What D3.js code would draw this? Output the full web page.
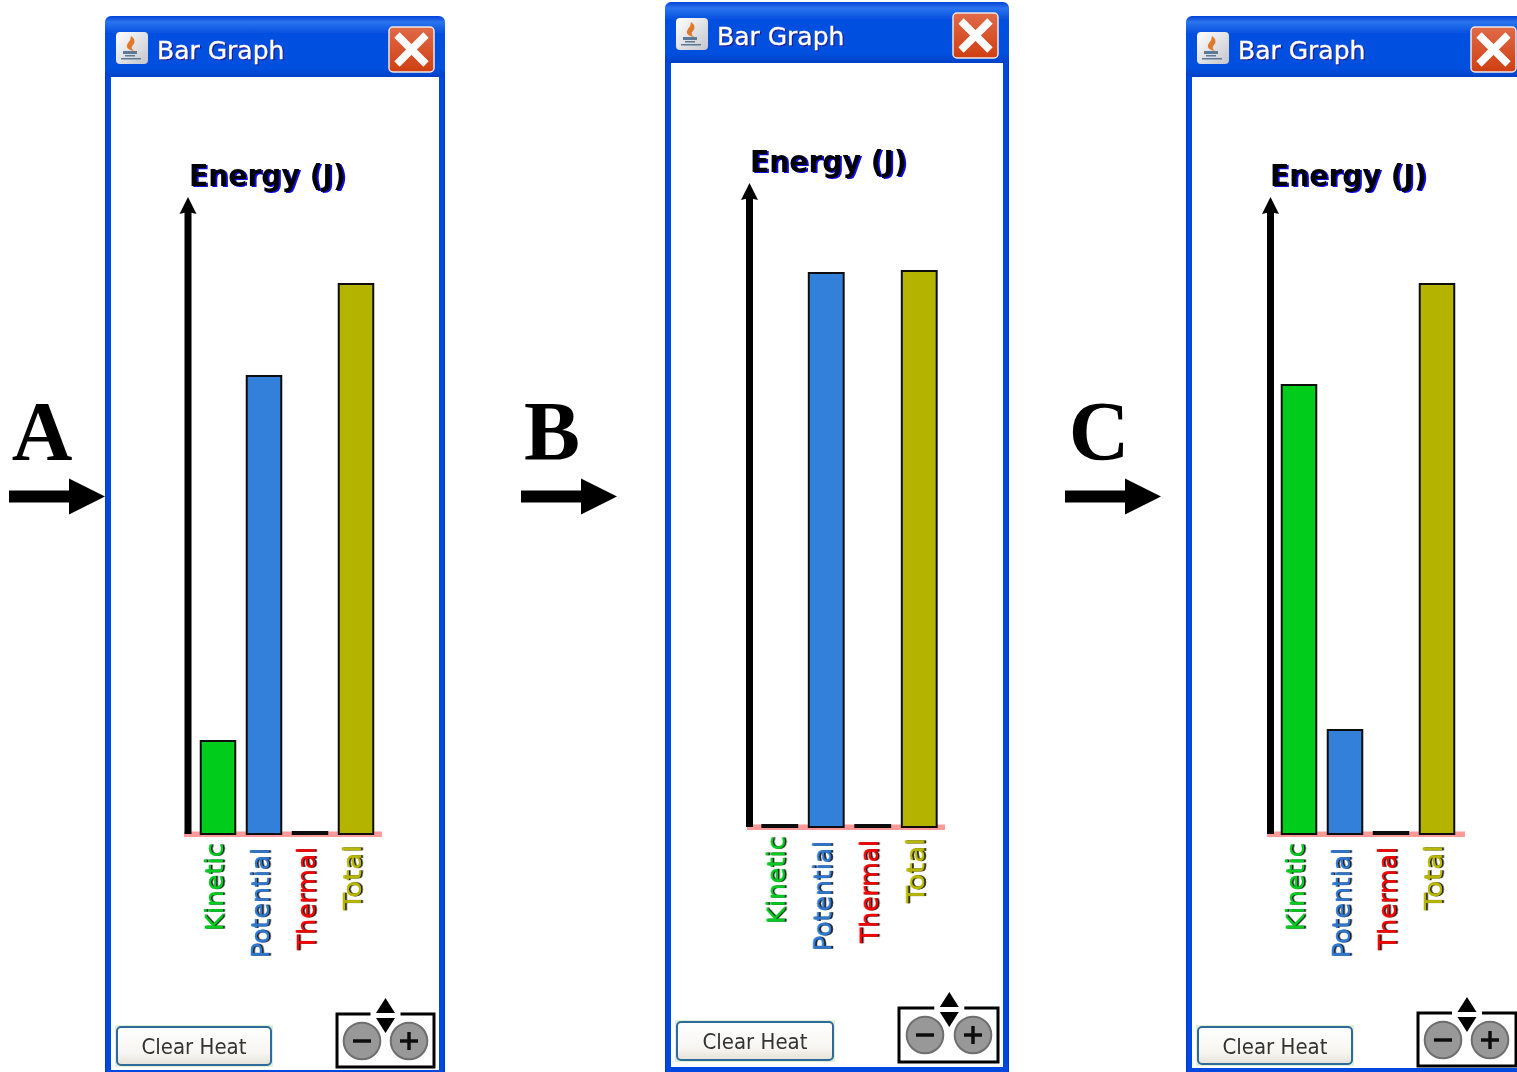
<!DOCTYPE html>
<html><head><meta charset="utf-8">
<style>html,body{margin:0;padding:0;background:#fff;overflow:hidden}svg{display:block}</style>
<script src="https://cdnjs.cloudflare.com/ajax/libs/d3/7.8.5/d3.min.js"></script>
</head><body><svg id="c" width="1517" height="1072"></svg>
<script>
const categories = ["Kinetic","Potential","Thermal","Total"];
const barColors = ["#00cc1a","#3380d9","#ff0000","#b3b300"];
const labelColors = ["#00cc20","#2f78d0","#ff0000","#b8b800"];
const kineticValues = [93, 458, 2, 550];
const potentialValues = [2, 554, 2, 556];
const thermalValues = [449, 104, 2, 550];
const windowTitle = "Bar Graph";
const axisTitle = "Energy (J)";
const buttonLabel = "Clear Heat";

const panels = [
 {name:"A",x:105,y:16,w:340,whiteEnd:1070,vals:kineticValues,axisX:188,titleX:189,baseX:184,base:834,bandL:195,bandW:184,letterX:42,arrowX:9,closeX:389,
  btn:[117,1027,154,38],zoom:{l:337,r:434,t:1014,b:1067,c1:362,c2:409,cy:1041,tri:385.5}},
 {name:"B",x:665,y:2,w:344,whiteEnd:1067,vals:potentialValues,axisX:749.5,titleX:750,baseX:747,base:827,bandL:756.5,bandW:186,letterX:552,arrowX:521,closeX:953,
  btn:[677,1022,156,38],zoom:{l:899,r:998,t:1008,b:1062,c1:925,c2:973,cy:1035,tri:949.3}},
 {name:"C",x:1186,y:16,w:344,whiteEnd:1068,vals:thermalValues,axisX:1270.5,titleX:1270,baseX:1267,base:834,bandL:1276,bandW:184,letterX:1099,arrowX:1065,closeX:1471,
  btn:[1198,1027,154,37],zoom:{l:1418,r:1516,t:1013,b:1066,c1:1443,c2:1490,cy:1040,tri:1467}}
];
const labelTopOffset = [9,14,13,11];
const labelLength = [88,110,103,65];

const svg = d3.select("#c");
const defs = svg.append("defs");
defs.append("filter").attr("id","soft").attr("x","-10%").attr("y","-10%").attr("width","120%").attr("height","120%")
  .append("feGaussianBlur").attr("stdDeviation",0.5);
const tg = defs.append("linearGradient").attr("id","title").attr("x1",0).attr("x2",0).attr("y1",0).attr("y2",1);
[[0,"#0344d8"],[0.1,"#2a74ee"],[0.28,"#0650e0"],[0.85,"#0450de"],[1,"#0340c8"]].forEach(s=>tg.append("stop").attr("offset",s[0]).attr("stop-color",s[1]));
const xg = defs.append("linearGradient").attr("id","close").attr("x1",0).attr("x2",0).attr("y1",0).attr("y2",1);
[[0,"#e06a48"],[1,"#cf3f12"]].forEach(s=>xg.append("stop").attr("offset",s[0]).attr("stop-color",s[1]));
const bg = defs.append("linearGradient").attr("id","btn").attr("x1",0).attr("x2",0).attr("y1",0).attr("y2",1);
[[0,"#ffffff"],[0.7,"#f6f5f0"],[1,"#e4e2d8"]].forEach(s=>bg.append("stop").attr("offset",s[0]).attr("stop-color",s[1]));
const ig = defs.append("linearGradient").attr("id","icon").attr("x1",0).attr("x2",1).attr("y1",0).attr("y2",1);
[[0,"#ffffff"],[1,"#c4c6cc"]].forEach(s=>ig.append("stop").attr("offset",s[0]).attr("stop-color",s[1]));
const sg = defs.append("linearGradient").attr("id","side").attr("x1",0).attr("x2",1).attr("y1",0).attr("y2",0);
[[0,"#0030c0"],[0.25,"#0446dc"],[1,"#0a50e6"]].forEach(s=>sg.append("stop").attr("offset",s[0]).attr("stop-color",s[1]));

const yScale = d3.scaleLinear().domain([0,640]).range([0,-640]);

panels.forEach(p=>{
  const g = svg.append("g");
  const fr = g.append("g").attr("filter","url(#soft)");
  // window frame
  fr.append("rect").attr("x",p.x).attr("y",p.y+6).attr("width",p.w).attr("height",1080-p.y).attr("fill","#0338c8");
  fr.append("rect").attr("x",p.x+1).attr("y",p.y+6).attr("width",p.w-2).attr("height",1080-p.y).attr("fill","#0448e0");
  fr.append("rect").attr("x",p.x).attr("y",p.y).attr("width",p.w).attr("height",61).attr("rx",6).attr("fill","url(#title)");
  fr.append("rect").attr("x",p.x+6).attr("y",p.y+61).attr("width",p.w-12).attr("height",p.whiteEnd-p.y-61).attr("fill","#fff");
  // java icon
  const ix=p.x+11, iy=p.y+16;
  fr.append("rect").attr("x",ix).attr("y",iy).attr("width",32).attr("height",32).attr("rx",4).attr("fill","url(#icon)");
  fr.append("path").attr("d",`M${ix+15} ${iy+4}q6 4 2 9q-3 3 1 6q-10 -2 -6 -8q3 -3 3 -7z`).attr("fill","#e07a2a");
  fr.append("path").attr("d",`M${ix+7} ${iy+19}h14v3h-14zM${ix+9} ${iy+23}h10v1.5h-10zM${ix+5} ${iy+26}h20v1.5h-20z`).attr("fill","#5c7a98");
  // window title
  const tx = p.x+52;
  const tt = (dx,dy,c)=>g.append("text").attr("x",tx+dx).attr("y",p.y+43+dy).text(windowTitle).attr("font-family","DejaVu Sans").attr("font-size",25).attr("fill",c).attr("stroke",c).attr("stroke-width",0.35).attr("filter","url(#soft)");
  tt(1.2,1.2,"#2a1a80"); tt(0,0,"#fff");
  // close button
  const cx = p.closeX, cy=p.y+11;
  fr.append("rect").attr("x",cx).attr("y",cy).attr("width",45).attr("height",45).attr("rx",4).attr("fill","url(#close)").attr("stroke","#f0e8e4").attr("stroke-width",1.5);
  fr.append("path").attr("d",`M${cx+8} ${cy+8}L${cx+37} ${cy+37}M${cx+37} ${cy+8}L${cx+8} ${cy+37}`).attr("stroke","#fff").attr("stroke-width",7.5);
  // axis title
  const aTy = p.y+169.5;
  const at = (dx,dy,c)=>g.append("text").attr("transform",`translate(${p.titleX+dx},${aTy+dy}) scale(1,1.08)`).text(axisTitle).attr("font-family","DejaVu Sans").attr("font-weight","bold").attr("font-size",28.2).attr("fill",c).attr("filter","url(#soft)");
  at(1.8,1.2,"#0808f0"); at(0,0,"#000");

  // chart
  const x = d3.scaleBand().domain(categories).range([p.bandL,p.bandL+p.bandW]).paddingInner(0.25).paddingOuter(0.125);
  const plot = g.append("g").attr("transform",`translate(0,${p.base})`).attr("filter","url(#soft)");
  plot.append("rect").attr("x",p.baseX).attr("y",-2.5).attr("width",198).attr("height",5.5).attr("fill","#ff9a9a");
  const axisTop = p.y+181-p.base;
  plot.append("rect").attr("x",p.axisX-3.5).attr("y",axisTop+14).attr("width",7).attr("height",-axisTop-14).attr("fill","#000");
  plot.append("path").attr("d",`M${p.axisX} ${axisTop}l8.5 17l-8.5 -2l-8.5 2z`).attr("fill","#000");
  plot.selectAll("rect.bar").data(p.vals).join("rect").attr("class","bar")
    .attr("x",(d,i)=>x(categories[i])).attr("width",x.bandwidth())
    .attr("y",d=>yScale(d)).attr("height",d=>-yScale(d)).attr("fill",(d,i)=>barColors[i])
    .attr("stroke","#111").attr("stroke-width",2);
  // category labels with dark offset shadow
  categories.forEach((c,i)=>{
    const lx = x(c)+x.bandwidth()/2+5, ly = p.base+labelTopOffset[i];
    const lab = (dx,col)=>g.append("text").attr("transform",`translate(${lx+dx},${ly}) rotate(-90)`).attr("text-anchor","end")
      .attr("textLength",labelLength[i]).attr("lengthAdjust","spacingAndGlyphs")
      .text(c).attr("font-family","DejaVu Sans").attr("font-size",25).attr("fill",col).attr("stroke",col).attr("stroke-width",0.3).attr("filter","url(#soft)");
    lab(1.6,"#111"); lab(0,labelColors[i]);
  });
  // clear heat button
  const [bx,by,bw,bh] = p.btn;
  fr.append("rect").attr("x",bx-2).attr("y",by-2).attr("width",bw+4).attr("height",bh+4).attr("fill","#dff0d8");
  fr.append("rect").attr("x",bx).attr("y",by).attr("width",bw).attr("height",bh).attr("rx",4).attr("fill","url(#btn)").attr("stroke","#2f6a9a").attr("stroke-width",2);
  g.append("text").attr("x",bx+bw/2).attr("y",by+27).attr("text-anchor","middle").attr("textLength",105).attr("lengthAdjust","spacingAndGlyphs")
    .text(buttonLabel).attr("font-family","DejaVu Sans").attr("font-size",22).attr("fill","#333").attr("filter","url(#soft)");
  // zoom control
  const z = p.zoom;
  fr.append("path").attr("d",`M${z.tri-15} ${z.t}H${z.l}V${z.b}H${z.r}V${z.t}H${z.tri+15}`).attr("fill","none").attr("stroke","#000").attr("stroke-width",3);
  [[z.c1,"-"],[z.c2,"+"]].forEach(b=>{
    fr.append("circle").attr("cx",b[0]).attr("cy",z.cy).attr("r",18.3).attr("fill","#989898").attr("stroke","#6e6e6e").attr("stroke-width",2);
    fr.append("path").attr("d",b[1]==="-"?`M${b[0]-9} ${z.cy}h18`:`M${b[0]-9} ${z.cy}h18M${b[0]} ${z.cy-9}v18`).attr("stroke","#111").attr("stroke-width",3.5);
  });
  fr.append("path").attr("d",`M${z.tri} ${z.t-16}l9.5 15h-19zM${z.tri-9.5} ${z.t+4}h19l-9.5 15z`).attr("fill","#000");
  // letter and arrow
  svg.append("text").attr("x",p.letterX).attr("y",460).attr("text-anchor","middle").text(p.name)
    .attr("font-family","Liberation Serif").attr("font-weight","bold").attr("font-size",84).attr("fill","#000");
  svg.append("path").attr("d",`M${p.arrowX} 490.5h60v-12l36 18l-36 18v-12h-60z`).attr("fill","#000");
});
</script></body></html>
